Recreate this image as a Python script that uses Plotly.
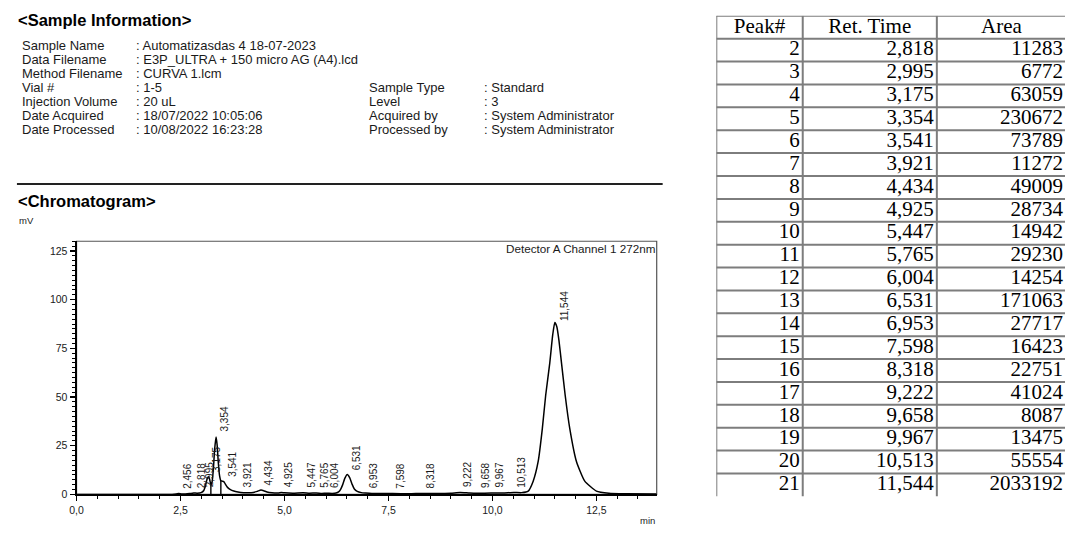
import numpy as np
import plotly.graph_objects as go

W, H = 1065, 534

# ---------------- data ----------------
time_min = [0.0, 2.30, 2.40, 2.456, 2.52, 2.62, 2.72, 2.818, 2.90, 2.995, 3.06, 3.10, 3.14, 3.175,
            3.20, 3.23, 3.26, 3.29, 3.32, 3.354, 3.38, 3.41, 3.44, 3.47, 3.50, 3.541, 3.58, 3.63,
            3.70, 3.78, 3.88, 3.95, 4.10, 4.25, 4.35, 4.434, 4.50, 4.58, 4.70, 4.85, 4.925, 5.00,
            5.20, 5.447, 5.60, 5.765, 5.90, 6.004, 6.15, 6.24, 6.30, 6.35, 6.40, 6.45, 6.51, 6.57,
            6.63, 6.68, 6.75, 6.85, 6.953, 7.10, 7.35, 7.598, 8.00, 8.318, 8.70, 9.00, 9.222, 9.45,
            9.658, 9.967, 10.25, 10.513, 10.70, 10.86, 10.98, 11.10, 11.20, 11.28, 11.38, 11.45,
            11.50, 11.55, 11.60, 11.66, 11.75, 11.86, 12.02, 12.22, 12.50, 12.80, 13.20, 13.95]
signal_mv = [0.0, 0.0, 0.2, 0.4, 0.2, 0.2, 0.4, 0.7, 0.6, 0.9, 2.0, 4.5, 8.0, 9.0,
             7.8, 5.0, 6.5, 13.0, 23.0, 29.5, 25.5, 16.0, 9.5, 7.0, 6.8, 6.6, 5.2, 3.6,
             2.4, 1.7, 1.2, 1.0, 0.9, 1.0, 1.6, 2.2, 1.9, 1.2, 0.8, 0.7, 1.0, 0.8,
             0.6, 0.8, 0.6, 0.7, 0.5, 0.6, 0.5, 0.7, 1.3, 2.6, 5.0, 8.2, 10.2, 8.5,
             5.0, 2.8, 1.5, 0.9, 0.7, 0.5, 0.4, 0.4, 0.3, 0.5, 0.4, 0.6, 1.0, 0.7,
             0.6, 0.7, 0.7, 1.0, 0.9, 1.7, 6.8, 16.9, 33.8, 50.8, 67.7, 82.0,
             88.3, 86.0, 79.0, 67.7, 50.8, 33.8, 16.9, 6.8, 1.7, 0.6, 0.3, 0.2]

drop_time = [3.23, 3.47]
drop_top = [5.0, 7.0]

label_times = [2.456, 2.818, 2.995, 3.175, 3.354, 3.541, 3.921, 4.434, 4.925, 5.447, 5.765,
               6.004, 6.531, 6.953, 7.598, 8.318, 9.222, 9.658, 9.967, 10.513, 11.544]

x_tick_vals = [0, 2.5, 5, 7.5, 10, 12.5]
x_tick_text = ["0,0", "2,5", "5,0", "7,5", "10,0", "12,5"]
y_tick_vals = [0, 25, 50, 75, 100, 125]
y_tick_text = ["0", "25", "50", "75", "100", "125"]

table_header = ["Peak#", "Ret. Time", "Area"]
table_peak = [2, 3, 4, 5, 6, 7, 8, 9, 10, 11, 12, 13, 14, 15, 16, 17, 18, 19, 20, 21]
table_ret = ["2,818", "2,995", "3,175", "3,354", "3,541", "3,921", "4,434", "4,925", "5,447",
             "5,765", "6,004", "6,531", "6,953", "7,598", "8,318", "9,222", "9,658", "9,967",
             "10,513", "11,544"]
table_area = [11283, 6772, 63059, 230672, 73789, 11272, 49009, 28734, 14942, 29230, 14254,
              171063, 27717, 16423, 22751, 41024, 8087, 13475, 55554, 2033192]

info_left_labels = ["Sample Name", "Data Filename", "Method Filename", "Vial #",
                    "Injection Volume", "Date Acquired", "Date Processed"]
info_left_values = ["Automatizasdas 4 18-07-2023", "E3P_ULTRA + 150 micro AG (A4).lcd",
                    "CURVA 1.lcm", "1-5", "20 uL", "18/07/2022 10:05:06", "10/08/2022 16:23:28"]
info_right_labels = ["Sample Type", "Level", "Acquired by", "Processed by"]
info_right_values = ["Standard", "3", "System Administrator", "System Administrator"]

# ---------------- figure ----------------
SANS = "Liberation Sans, Arial, sans-serif"
SERIF = "Liberation Serif, Times New Roman, serif"
INK = "#1a1a1a"


def px(x):
    return x / W


def py(y):
    return 1 - y / H


fig = go.Figure()

# chromatogram
fig.add_trace(go.Scatter(x=time_min, y=signal_mv, mode="lines",
                         line=dict(color="black", width=1.5, shape="spline", smoothing=0.5),
                         hoverinfo="skip", showlegend=False))

dx, dy = [], []
for t, v in zip(drop_time, drop_top):
    dx += [t, t, None]
    dy += [0, v, None]
fig.add_trace(go.Scatter(x=dx, y=dy, mode="lines", line=dict(color="black", width=1.4),
                         hoverinfo="skip", showlegend=False))

# table on its own axes: x in column units, y in row units (0 = top)
col_edges = [0, 87, 222, 352]
n_rows = len(table_peak) + 1
grid_x, grid_y = [], []
for r in range(n_rows):
    grid_x += [col_edges[0], col_edges[-1], None]
    grid_y += [r, r, None]
for cx in col_edges[:3]:
    grid_x += [cx, cx, None]
    grid_y += [0, n_rows + 0.05, None]
fig.add_trace(go.Scatter(x=grid_x, y=grid_y, mode="lines", xaxis="x2", yaxis="y2",
                         line=dict(color="#7d7d7d", width=2), hoverinfo="skip",
                         showlegend=False, cliponaxis=False))

# header
hx = [(col_edges[i] + col_edges[i + 1]) / 2 for i in range(3)]
fig.add_trace(go.Scatter(x=hx, y=[0.5] * 3, mode="text", text=table_header, xaxis="x2", yaxis="y2",
                         textposition="middle center", cliponaxis=False, hoverinfo="skip",
                         textfont=dict(family=SERIF, size=21, color="black"), showlegend=False))
rows_y = [r + 1.5 for r in range(len(table_peak))]
for ci, col in enumerate([table_peak, table_ret, table_area]):
    fig.add_trace(go.Scatter(x=[col_edges[ci + 1] - 3] * len(col), y=rows_y, mode="text",
                             text=[str(v) for v in col], xaxis="x2", yaxis="y2",
                             textposition="middle left", cliponaxis=False, hoverinfo="skip",
                             textfont=dict(family=SERIF, size=21, color="black"),
                             showlegend=False))

ann = []
sig_at = np.interp(label_times, time_min, signal_mv)
for t, v in zip(label_times, sig_at):
    ann.append(dict(x=t, y=v, xref="x", yref="y", text=f"{t:.3f}".replace(".", ","),
                    textangle=-90, showarrow=False, xanchor="center", yanchor="bottom",
                    xshift=8, yshift=3, font=dict(family=SANS, size=10, color=INK)))

ann.append(dict(x=px(9), y=py(20), xref="paper", yref="paper", text="<b>&lt;Sample Information&gt;</b>",
                showarrow=False, xanchor="left", yanchor="middle",
                font=dict(family=SANS, size=16.5, color="black")))
for i, (lab, val) in enumerate(zip(info_left_labels, info_left_values)):
    yy = py(46 + 14.2 * i)
    ann.append(dict(x=px(13), y=yy, xref="paper", yref="paper", text=lab, showarrow=False,
                    xanchor="left", yanchor="middle", font=dict(family=SANS, size=13, color=INK)))
    ann.append(dict(x=px(128), y=yy, xref="paper", yref="paper", text=": " + val, showarrow=False,
                    xanchor="left", yanchor="middle", font=dict(family=SANS, size=13, color=INK)))
for i, (lab, val) in enumerate(zip(info_right_labels, info_right_values)):
    yy = py(46 + 14.2 * (i + 3))
    ann.append(dict(x=px(362), y=yy, xref="paper", yref="paper", text=lab, showarrow=False,
                    xanchor="left", yanchor="middle", font=dict(family=SANS, size=13, color=INK)))
    ann.append(dict(x=px(478), y=yy, xref="paper", yref="paper", text=": " + val, showarrow=False,
                    xanchor="left", yanchor="middle", font=dict(family=SANS, size=13, color=INK)))

ann.append(dict(x=px(9), y=py(203), xref="paper", yref="paper", text="<b>&lt;Chromatogram&gt;</b>",
                showarrow=False, xanchor="left", yanchor="middle",
                font=dict(family=SANS, size=16.5, color="black")))
ann.append(dict(x=px(10), y=py(223), xref="paper", yref="paper", text="mV", showarrow=False,
                xanchor="left", yanchor="middle", font=dict(family=SANS, size=9.5, color=INK)))
ann.append(dict(x=px(654), y=py(526), xref="paper", yref="paper", text="min", showarrow=False,
                xanchor="right", yanchor="middle", font=dict(family=SANS, size=9.5, color=INK)))
ann.append(dict(x=px(654), y=py(251), xref="paper", yref="paper", text="Detector A Channel 1 272nm",
                showarrow=False, xanchor="right", yanchor="middle",
                font=dict(family=SANS, size=11.7, color=INK)))

shapes = [
    dict(type="line", xref="paper", yref="paper", x0=px(10), x1=px(660), y0=py(186), y1=py(186),
         line=dict(color="#222", width=2)),
    dict(type="rect", xref="x domain", yref="y domain", x0=0, x1=1, y0=0, y1=1,
         line=dict(color="#555", width=1.2), layer="below"),
]

fig.update_layout(
    width=W, height=H, margin=dict(l=0, r=0, t=0, b=0),
    paper_bgcolor="white", plot_bgcolor="white", showlegend=False,
    annotations=ann, shapes=shapes,
    xaxis=dict(domain=[px(70), px(654)], range=[0, 13.95], tickvals=x_tick_vals,
               ticktext=x_tick_text, ticks="outside", ticklen=5, tickwidth=1.2, tickcolor="black",
               showline=True, linecolor="black", linewidth=2, showgrid=False, zeroline=False,
               tickfont=dict(family=SANS, size=10.5, color=INK),
               minor=dict(dtick=0.5, ticks="outside", ticklen=3, tickcolor="black", tickwidth=1)),
    yaxis=dict(domain=[py(500), py(244)], range=[0, 130], tickvals=y_tick_vals,
               ticktext=y_tick_text, ticks="outside", ticklen=5, tickwidth=1.2, tickcolor="black",
               showline=True, linecolor="black", linewidth=2, showgrid=False, zeroline=False,
               tickfont=dict(family=SANS, size=10.5, color=INK),
               minor=dict(dtick=2.5, ticks="outside", ticklen=3, tickcolor="black", tickwidth=1)),
    xaxis2=dict(domain=[px(714), 1.0], range=[0, 351], visible=False, fixedrange=True),
    yaxis2=dict(domain=[py(502), py(16)], range=[n_rows, 0], visible=False, fixedrange=True,
                anchor="x2"),
)

fig.write_html("out.html", config={"displayModeBar": False, "staticPlot": True},
               post_script="document.body.style.margin='0px';document.body.style.overflow='hidden';")
